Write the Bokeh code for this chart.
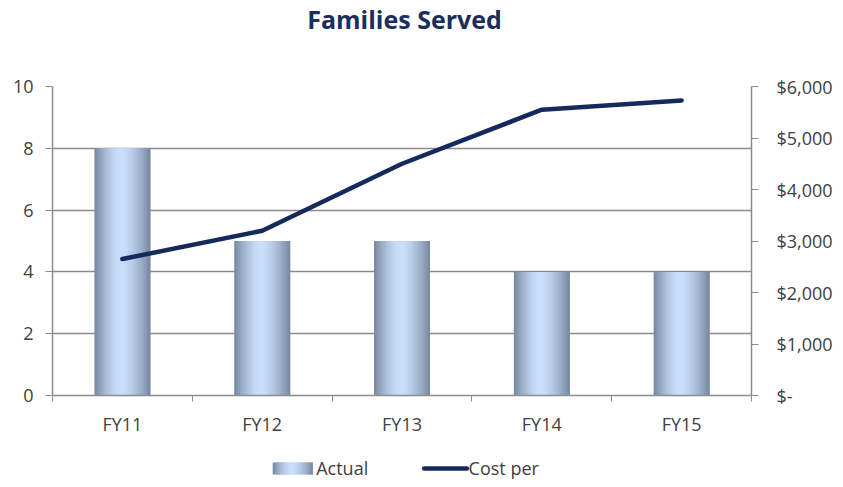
from bokeh.plotting import figure
from bokeh.layouts import column
from bokeh.models import (ColumnDataSource, LinearAxis, Range1d, FixedTicker,
                          NumeralTickFormatter)
from bokeh.core.properties import value
from bokeh.embed import file_html
from bokeh.resources import INLINE

categories = ["FY11", "FY12", "FY13", "FY14", "FY15"]
actual = [8, 5, 5, 4, 4]
cost_per = [2650, 3200, 4500, 5550, 5730]
left_ticks = [0, 2, 4, 6, 8, 10]
right_ticks = [0, 1000, 2000, 3000, 4000, 5000, 6000]
series_names = ["Actual", "Cost per"]
title_text = "Families Served"

FONT = "Open Sans"
TXT = "#404040"
AXC = "#8c8c8c"
NAVY = "#14295c"
W = 835

dark = (118, 133, 158)
light = (201, 223, 251)


def grad_colors(n):
    out = []
    for k in range(n):
        t = (k + 0.5) / n
        f = 1 - abs((t - 0.47) / (0.53 if t > 0.47 else 0.47)) ** 1.6
        c = tuple(int(round(d + (l - d) * f)) for d, l in zip(dark, light))
        out.append("#%02x%02x%02x" % c)
    return out


def blank_fig(h):
    f = figure(width=W, height=h, output_backend="svg", toolbar_location=None,
               x_range=Range1d(0, W), y_range=Range1d(0, h),
               x_axis_location=None, y_axis_location=None,
               min_border=0, min_border_left=0, min_border_right=0,
               min_border_top=0, min_border_bottom=0)
    f.outline_line_color = None
    f.grid.visible = False
    return f


# ---------- header (title) ----------
HH = 40
head = blank_fig(HH)
head.text(x=[W / 2 + 3], y=[HH - 18], text=[title_text], text_font=value(FONT),
          text_font_style="bold", text_font_size="25px", text_color="#1b2d5c",
          text_align="center", text_baseline="middle")

# ---------- main chart ----------
p = figure(width=W, height=400, output_backend="svg", toolbar_location=None,
           x_range=Range1d(0, len(categories)), y_range=Range1d(0, 10),
           min_border_left=52, min_border_right=81, min_border_top=46,
           min_border_bottom=45)
p.outline_line_color = None

bar_w = 0.4
n_strips = 30
cols_g = grad_colors(n_strips)
lefts, rights, tops, cols = [], [], [], []
sw = bar_w / n_strips
for i, v in enumerate(actual):
    x0 = i + 0.5 - bar_w / 2
    for k in range(n_strips):
        lefts.append(x0 + k * sw)
        rights.append(min(x0 + (k + 2) * sw, x0 + bar_w))
        tops.append(v)
        cols.append(cols_g[k])
src = ColumnDataSource(dict(left=lefts, right=rights, top=tops, color=cols))
p.quad(left="left", right="right", top="top", bottom=0, fill_color="color",
       line_color=None, source=src)

p.extra_y_ranges = {"cost": Range1d(0, 6000)}
line_x = [i + 0.5 for i in range(len(categories))]
p.line(line_x, cost_per, y_range_name="cost", line_color=NAVY, line_width=4.5,
       line_cap="round", line_join="round")

xa = p.xaxis[0]
xa.ticker = FixedTicker(ticks=[i + 0.5 for i in range(len(categories))],
                        minor_ticks=list(range(len(categories) + 1)))
xa.major_label_overrides = {i + 0.5: c for i, c in enumerate(categories)}
xa.major_tick_out = 0
xa.major_tick_in = 0
xa.minor_tick_out = 6
xa.minor_tick_in = 0
xa.minor_tick_line_color = AXC
xa.axis_line_color = AXC
xa.axis_line_width = 1.5
xa.major_label_standoff = 10
xa.major_label_text_font = FONT
xa.major_label_text_font_size = "18px"
xa.major_label_text_color = TXT

ya = p.yaxis[0]
ya.ticker = FixedTicker(ticks=left_ticks)
ya.major_tick_out = 7
ya.major_tick_in = 0
ya.minor_tick_line_color = None
ya.major_tick_line_color = AXC
ya.axis_line_color = AXC
ya.axis_line_width = 1.5
ya.major_label_standoff = 12
ya.major_label_text_font = FONT
ya.major_label_text_font_size = "18px"
ya.major_label_text_color = TXT

ra = LinearAxis(y_range_name="cost", ticker=FixedTicker(ticks=right_ticks),
                formatter=NumeralTickFormatter(format="$0,0"))
ra.major_label_overrides = {0: "$-"}
ra.major_tick_out = 7
ra.major_tick_in = 0
ra.minor_tick_line_color = None
ra.major_tick_line_color = AXC
ra.axis_line_color = AXC
ra.axis_line_width = 1.5
ra.major_label_standoff = 18
ra.major_label_text_font = FONT
ra.major_label_text_font_size = "18px"
ra.major_label_text_color = TXT
p.add_layout(ra, "right")

p.xgrid.visible = False
p.ygrid.ticker = FixedTicker(ticks=left_ticks)
p.ygrid.grid_line_color = AXC
p.ygrid.grid_line_width = 1.5

# ---------- legend ----------
LH = 39
leg = blank_fig(LH)
n_leg = 16
lw = 48 / n_leg
lg_cols = grad_colors(n_leg)
leg.quad(left=[263 + k * lw for k in range(n_leg)],
         right=[min(263 + (k + 2) * lw, 311) for k in range(n_leg)],
         bottom=5, top=17, fill_color=lg_cols, line_color=None)
leg.line(x=[444, 495], y=[11, 11], line_color=NAVY, line_width=4.5, line_cap="round")
leg.text(x=[315, 497], y=[12, 12], text=series_names, text_font=value(FONT),
         text_font_size="18px", text_color=TXT, text_align="left",
         text_baseline="middle")

layout = column(head, p, leg, spacing=0)
open("out.html", "w").write(file_html(layout, INLINE))
